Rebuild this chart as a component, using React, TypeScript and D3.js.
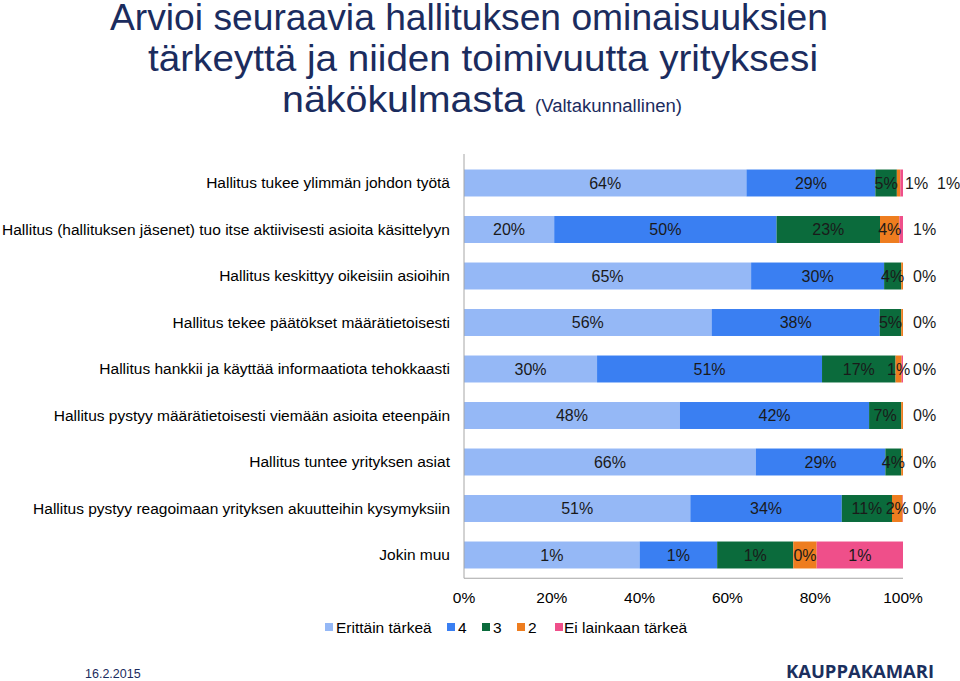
import React from "react";
import * as d3 from "d3";

const categories = [
  "Hallitus tukee ylimmän johdon työtä",
  "Hallitus (hallituksen jäsenet) tuo itse aktiivisesti asioita käsittelyyn",
  "Hallitus keskittyy oikeisiin asioihin",
  "Hallitus tekee päätökset määrätietoisesti",
  "Hallitus hankkii ja käyttää informaatiota tehokkaasti",
  "Hallitus pystyy määrätietoisesti viemään asioita eteenpäin",
  "Hallitus tuntee yrityksen asiat",
  "Hallitus pystyy reagoimaan yrityksen akuutteihin kysymyksiin",
  "Jokin muu",
];

const seriesNames = ["Erittäin tärkeä", "4", "3", "2", "Ei lainkaan tärkeä"];
const seriesColors = ["#95b8f6", "#3a7ff2", "#0b6b3c", "#ee7d1f", "#ef4f8a"];

const erittainTarkea = [64.4, 20.4, 65.4, 56.4, 30.4, 48.4, 66.2, 51.4, 1.2];
const neljä = [29.4, 50.3, 30.3, 38.3, 51.4, 42.4, 29.4, 34.4, 0.53];
const kolme = [4.9, 23.4, 3.9, 4.9, 16.8, 7.2, 3.6, 11.4, 0.52];
const kaksi = [0.8, 4.4, 0.4, 0.4, 1.4, 0.4, 0.4, 2.4, 0.16];
const eiLainkaan = [0.6, 0.8, 0, 0, 0.3, 0, 0, 0.1, 0.59];

const xTicks = [0, 0.2, 0.4, 0.6, 0.8, 1];

const titleLines = [
  "Arvioi seuraavia hallituksen ominaisuuksien",
  "tärkeyttä ja niiden toimivuutta yrityksesi",
  "näkökulmasta",
];
const subtitle = "(Valtakunnallinen)";
const dateText = "16.2.2015";
const logoText = "KAUPPAKAMARI";

const FONT = "'Liberation Sans', Arial, Helvetica, sans-serif";
const TITLE_COLOR = "#1b2c5e";

export default function App() {
  const width = 960;
  const height = 681;
  const plotLeft = 464;
  const plotRight = 903;
  const plotTop = 159.75;
  const plotBottom = 578.25;

  const rows = categories.map((c, i) => ({
    cat: c,
    v: [erittainTarkea[i], neljä[i], kolme[i], kaksi[i], eiLainkaan[i]],
  }));

  const x = d3.scaleLinear().domain([0, 1]).range([plotLeft, plotRight]);
  const y = d3
    .scaleBand<string>()
    .domain(categories)
    .range([plotTop, plotBottom])
    .paddingInner(0.42)
    .paddingOuter(0.21);

  const keys = [0, 1, 2, 3, 4];
  const stack = d3
    .stack<any, number>()
    .keys(keys as any)
    .value((d: any, k: any) => d.v[k])
    .offset(d3.stackOffsetExpand);
  const stacked = stack(rows as any);

  const bh = y.bandwidth();

  const labels: any[] = [];
  rows.forEach((r, i) => {
    const yc = (y(r.cat) as number) + bh / 2;
    const segs = keys.map((k) => {
      const s = stacked[k][i];
      return { k, x0: x(s[0]), x1: x(s[1]), v: r.v[k] };
    });
    const outside: number[] = [];
    for (let k = segs.length - 1; k >= 0; k--) {
      const s = segs[k];
      if (s.v <= 0) continue;
      if (s.x1 - s.x0 < 6) outside.unshift(k);
      else break;
    }
    const end = x(1);
    segs.forEach((s) => {
      if (s.v <= 0) return;
      const txt = Math.round(s.v) + "%";
      const oi = outside.indexOf(s.k);
      if (oi >= 0) {
        const lx = outside.length === 1 ? end + 10 : end + 2 + oi * 32;
        labels.push({ key: `${i}-${s.k}`, x: lx, y: yc, anchor: "start", txt });
      } else {
        labels.push({ key: `${i}-${s.k}`, x: (s.x0 + s.x1) / 2, y: yc, anchor: "middle", txt });
      }
    });
  });

  const legendItems = [
    { sx: 325, tx: 336 },
    { sx: 447, tx: 458 },
    { sx: 482, tx: 493 },
    { sx: 517, tx: 528 },
    { sx: 555, tx: 564 },
  ];

  return (
    <svg
      width={width}
      height={height}
      style={{ position: "absolute", left: 0, top: 0, background: "#fff" }}
      fontFamily={FONT}
    >
      {/* Title */}
      <text x={110} y={30} fontSize={37} fill={TITLE_COLOR} textLength={718} lengthAdjust="spacingAndGlyphs">
        {titleLines[0]}
      </text>
      <text x={148} y={71} fontSize={37} fill={TITLE_COLOR} textLength={670} lengthAdjust="spacingAndGlyphs">
        {titleLines[1]}
      </text>
      <text x={282} y={112} fontSize={37} fill={TITLE_COLOR} textLength={243} lengthAdjust="spacingAndGlyphs">
        {titleLines[2]}
      </text>
      <text x={535} y={112} fontSize={18} fill={TITLE_COLOR} textLength={147} lengthAdjust="spacingAndGlyphs">
        {subtitle}
      </text>

      {/* Bars */}
      {stacked.map((layer: any, k: number) => (
        <g key={k} fill={seriesColors[k]}>
          {layer.map((d: any, i: number) => (
            <rect
              key={i}
              x={x(d[0])}
              y={y(categories[i]) as number}
              width={Math.max(0, x(d[1]) - x(d[0]))}
              height={bh}
            />
          ))}
        </g>
      ))}

      {/* Axes */}
      <line x1={plotLeft} x2={plotLeft} y1={154} y2={plotBottom} stroke="#a6a6a6" strokeWidth={1} />
      <line x1={plotLeft} x2={plotRight} y1={plotBottom} y2={plotBottom} stroke="#a6a6a6" strokeWidth={1} />

      {/* Category labels */}
      {categories.map((c) => (
        <text
          key={c}
          x={450}
          y={(y(c) as number) + bh / 2}
          dy="0.35em"
          textAnchor="end"
          fontSize={15.5}
          fill="#000"
        >
          {c}
        </text>
      ))}

      {/* Tick labels */}
      {xTicks.map((t) => (
        <text key={t} x={x(t)} y={603} textAnchor="middle" fontSize={15.5} fill="#000">
          {d3.format(".0%")(t)}
        </text>
      ))}

      {/* Data labels */}
      {labels.map((l) => (
        <text key={l.key} x={l.x} y={l.y} dy="0.35em" textAnchor={l.anchor} fontSize={16} fill="#1a1a1a">
          {l.txt}
        </text>
      ))}

      {/* Legend */}
      {seriesNames.map((n, k) => (
        <g key={n}>
          <rect x={legendItems[k].sx} y={623} width={8} height={8} fill={seriesColors[k]} />
          <text x={legendItems[k].tx} y={633} fontSize={15.5} fill="#000">
            {n}
          </text>
        </g>
      ))}

      {/* Footer */}
      <text x={85} y={678} fontSize={12.5} fill="#1b2c5e">
        {dateText}
      </text>
      <text
        x={786}
        y={678}
        fontSize={17}
        fontWeight={700}
        fill="#1b2f5e"
        fontFamily="'Open Sans', 'Noto Sans', sans-serif"
        textLength={148}
        lengthAdjust="spacingAndGlyphs"
      >
        {logoText}
      </text>
    </svg>
  );
}
